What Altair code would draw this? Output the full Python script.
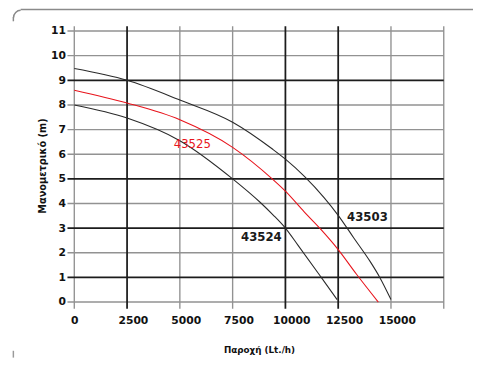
import altair as alt
import pandas as pd
import math

# ---- data ----
x_503 = [0, 2500, 5000, 7500, 9400, 10000, 10900, 11830, 12500, 13240, 14010, 14470, 15000]
y_503 = [9.48, 9.0, 8.2, 7.3, 6.2, 5.8, 5.1, 4.24, 3.52, 2.6, 1.65, 1.0, 0.1]

x_525 = [0, 2500, 5000, 7500, 9400, 10000, 10900, 11680, 12500, 13350, 14400]
y_525 = [8.6, 8.08, 7.4, 6.28, 4.98, 4.5, 3.65, 2.95, 2.13, 1.15, 0.0]

x_524 = [0, 2500, 5000, 7500, 8800, 9400, 10000, 10600, 11680, 12450]
y_524 = [8.0, 7.47, 6.55, 5.0, 4.05, 3.55, 3.0, 2.3, 1.02, 0.1]

red_labels = ["43525"]
red_label_x = [5590]
red_label_y = [6.42]
black_labels = ["43503", "43524"]
black_label_x = [13885, 8862]
black_label_y = [3.46, 2.63]

x_ticks = [0, 2500, 5000, 7500, 10000, 12500, 15000]
y_ticks = [0, 1, 2, 3, 4, 5, 6, 7, 8, 9, 10, 11]

grid_x_thin = [0, 5000, 7500, 15000, 17500]
grid_x_thick = [2500, 10000, 12500]
grid_y_thin = [0, 2, 4, 6, 7, 8, 10, 11]
grid_y_thick = [1, 3, 5, 9]

x_title = "Παροχή (Lt./h)"
y_title = "Μανομετρικό (m)"

W, H = 379, 278
FONT = "DejaVu Sans"
THIN = "#929292"
THICK = "#1c1c1c"
RED = "#e8141c"
DARK = "#2a2a2a"

xs = alt.Scale(domain=[0, 17500], nice=False, zero=False)
ys = alt.Scale(domain=[0, 11], nice=False, zero=False)

x_axis = alt.Axis(
    values=x_ticks, format="d", grid=False, domain=False, ticks=False,
    labelFont=FONT, labelFontSize=11, labelFontWeight="bold", labelColor="#111",
    labelPadding=13,
    labelOffset={"condition": {"test": "datum.value == 0", "value": 0}, "value": 6},
    labelFlush=False, labelOverlap=False,
    title=x_title, titleFont=FONT, titleFontSize=9, titleFontWeight="bold",
    titleColor="#111", titleY=52, titleBaseline="alphabetic",
)
y_axis = alt.Axis(
    values=y_ticks, format="d", grid=False, domain=False, ticks=False,
    labelFont=FONT, labelFontSize=11, labelFontWeight="bold", labelColor="#111",
    labelPadding=9, labelFlush=False, labelOverlap=False,
    title=y_title, titleFont=FONT, titleFontSize=10, titleFontWeight="bold",
    titleColor="#111", titleAngle=270, titleX=-30, titleY=138,
    titleAlign="center", titleBaseline="alphabetic",
)


def X(f="q"):
    return alt.X(f"{f}:Q", scale=xs, axis=x_axis, title=x_title)


def Y(f="h"):
    return alt.Y(f"{f}:Q", scale=ys, axis=y_axis, title=y_title)


def vgrid(vals, color, w):
    return alt.Chart(pd.DataFrame({"q": vals})).mark_rule(color=color, strokeWidth=w).encode(
        x=X(), y=alt.value(-5), y2=alt.value(H + 7),
    )


def hgrid(vals, color, w):
    return alt.Chart(pd.DataFrame({"h": vals})).mark_rule(color=color, strokeWidth=w).encode(
        y=Y(), x=alt.value(-7), x2=alt.value(W),
    )


def curve(xv, yv, color):
    df = pd.DataFrame({"q": xv, "h": yv, "i": list(range(len(xv)))})
    return alt.Chart(df).mark_line(interpolate="monotone", strokeWidth=1.1, color=color).encode(
        x=X(), y=Y(), order="i:Q"
    )


def labels(t, xv, yv, color, weight):
    df = pd.DataFrame({"t": t, "q": xv, "h": yv})
    return alt.Chart(df).mark_text(font=FONT, fontSize=12, fontWeight=weight, color=color).encode(
        x=X(), y=Y(), text="t:N"
    )


thin = vgrid(grid_x_thin, THIN, 1.4) + hgrid(grid_y_thin, THIN, 1.4)
thick = vgrid(grid_x_thick, THICK, 1.8) + hgrid(grid_y_thick, THICK, 1.8)

curves = curve(x_503, y_503, DARK) + curve(x_524, y_524, DARK) + curve(x_525, y_525, RED)
txt = labels(red_labels, red_label_x, red_label_y, RED, "normal") + \
    labels(black_labels, black_label_x, black_label_y, "#1a1a1a", "bold")

# decorative frame fragments (page border of the original image)
one = pd.DataFrame({"k": [0]})
frame_top = alt.Chart(one).mark_rule(color="#8a8a8a", strokeWidth=1.5).encode(
    x=alt.value(-55), x2=alt.value(420), y=alt.value(-22)
)
frame_corner = alt.Chart(one).mark_arc(
    color="#8a8a8a", radius=8, radius2=6.5, theta=3 * math.pi / 2, theta2=2 * math.pi
).encode(x=alt.value(-55), y=alt.value(-14))
frame_left = alt.Chart(one).mark_rule(color="#8a8a8a", strokeWidth=1.5).encode(
    x=alt.value(-62.5), y=alt.value(-14.5), y2=alt.value(-10)
)
frame_bottom = alt.Chart(one).mark_rule(color="#9a9a9a", strokeWidth=1.5).encode(
    x=alt.value(-62.5), y=alt.value(328), y2=alt.value(335)
)

chart = alt.layer(
    thin, thick, curves, txt, frame_top, frame_corner, frame_left, frame_bottom
).properties(
    width=W, height=H,
    autosize=alt.AutoSizeParams(type="none"),
    padding={"left": 68, "top": 19, "right": 30, "bottom": 62},
    background="white",
).configure_view(stroke=None)

chart.save("out.html", embed_options={"renderer": "svg", "actions": False})
